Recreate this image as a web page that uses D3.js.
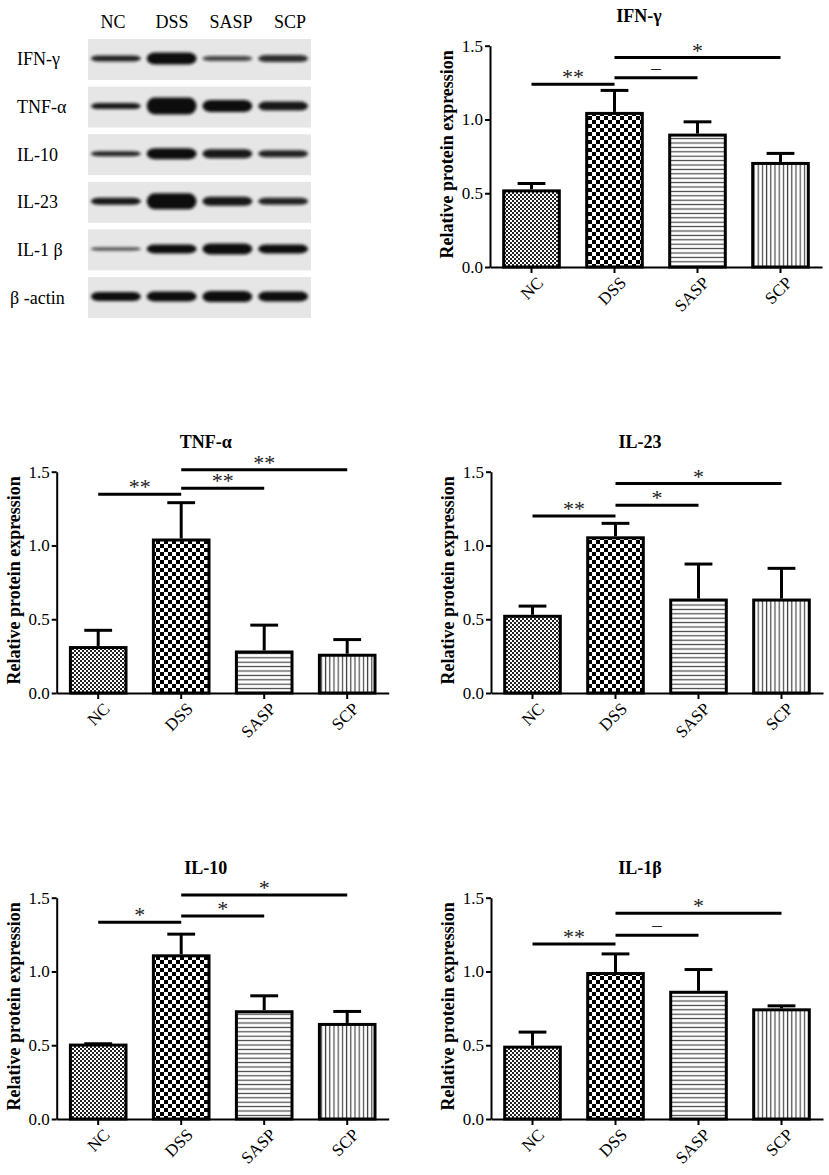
<!DOCTYPE html>
<html>
<head>
<meta charset="utf-8">
<script src="https://cdn.jsdelivr.net/npm/d3@7"></script>
<style>
body { margin: 0; background: #fff; }
text { font-family: "Liberation Serif", "Times New Roman", serif; }
</style>
</head>
<body>
<svg id="chart" width="829" height="1175"></svg>
<script>
const groups = ["NC", "DSS", "SASP", "SCP"];
const yTicks = [0, 0.5, 1.0, 1.5];
const sigPairs = [["NC", "DSS"], ["DSS", "SASP"], ["DSS", "SCP"]];

// bar means and upper errors
const ifnMean = [0.516, 1.041, 0.894, 0.702];
const ifnErr = [0.050, 0.156, 0.090, 0.068];
const ifnSig = ["**", "–", "*"];
const ifnSigY = [1.238, 1.283, 1.420];

const tnfMean = [0.308, 1.037, 0.278, 0.256];
const tnfErr = [0.117, 0.253, 0.182, 0.106];
const tnfSig = ["**", "**", "**"];
const tnfSigY = [1.347, 1.387, 1.514];

const il23Mean = [0.520, 1.052, 0.630, 0.630];
const il23Err = [0.069, 0.098, 0.244, 0.215];
const il23Sig = ["**", "*", "*"];
const il23SigY = [1.200, 1.272, 1.420];

const il10Mean = [0.501, 1.106, 0.727, 0.641];
const il10Err = [0.009, 0.147, 0.108, 0.088];
const il10Sig = ["*", "*", "*"];
const il10SigY = [1.334, 1.376, 1.518];

const il1bMean = [0.487, 0.986, 0.859, 0.740];
const il1bErr = [0.102, 0.133, 0.154, 0.027];
const il1bSig = ["**", "–", "*"];
const il1bSigY = [1.186, 1.245, 1.394];

// western blot rows and band thickness (px) / darkness per lane
const blotRows = ["IFN-γ", "TNF-α", "IL-10", "IL-23", "IL-1 β", "β -actin"];
const bandThick = [
	[6, 12, 5, 7],
	[6, 17, 12, 9],
	[5, 11, 9, 7],
	[7, 16, 9, 7],
	[3, 9, 11, 9],
	[9, 10, 11, 10]
];
const bandDark = [
	[0.9, 1, 0.75, 0.85],
	[0.95, 1, 1, 0.95],
	[0.9, 1, 0.95, 0.9],
	[0.95, 1, 0.95, 0.9],
	[0.8, 1, 1, 1],
	[1, 1, 1, 1]
];

const svg = d3.select("#chart");
const defs = svg.append("defs");

// fill patterns
const pNC = defs.append("pattern").attr("id", "pNC").attr("patternUnits", "userSpaceOnUse")
	.attr("width", 4).attr("height", 4);
pNC.append("rect").attr("width", 4).attr("height", 4).attr("fill", "#fff");
pNC.append("rect").attr("width", 2).attr("height", 2).attr("fill", "#222");
pNC.append("rect").attr("x", 2).attr("y", 2).attr("width", 2).attr("height", 2).attr("fill", "#222");

const pDSS = defs.append("pattern").attr("id", "pDSS").attr("patternUnits", "userSpaceOnUse")
	.attr("width", 8).attr("height", 8);
pDSS.append("rect").attr("width", 8).attr("height", 8).attr("fill", "#fff");
pDSS.append("rect").attr("width", 4).attr("height", 4).attr("fill", "#000");
pDSS.append("rect").attr("x", 4).attr("y", 4).attr("width", 4).attr("height", 4).attr("fill", "#000");

const pSASP = defs.append("pattern").attr("id", "pSASP").attr("patternUnits", "userSpaceOnUse")
	.attr("width", 4).attr("height", 4.4);
pSASP.append("rect").attr("width", 4).attr("height", 4.4).attr("fill", "#fff");
pSASP.append("rect").attr("y", 1.6).attr("width", 4).attr("height", 1.2).attr("fill", "#444");

const pSCP = defs.append("pattern").attr("id", "pSCP").attr("patternUnits", "userSpaceOnUse")
	.attr("width", 4.2).attr("height", 4);
pSCP.append("rect").attr("width", 4.2).attr("height", 4).attr("fill", "#fff");
pSCP.append("rect").attr("x", 1.6).attr("width", 1.2).attr("height", 4).attr("fill", "#444");

const fills = ["url(#pNC)", "url(#pDSS)", "url(#pSASP)", "url(#pSCP)"];

const blur = defs.append("filter").attr("id", "blur").attr("x", "-20%").attr("y", "-100%")
	.attr("width", "140%").attr("height", "300%");
blur.append("feGaussianBlur").attr("stdDeviation", 1.6);

// ---- western blot ----
const blot = svg.append("g");
const rowY = d3.scaleBand().domain(blotRows).range([39, 318]).paddingInner(0.14);
const laneX = d3.scaleBand().domain(groups).range([88, 311]);
const headX = d3.scalePoint().domain(groups).range([113, 290]);

blot.selectAll(".head").data(groups).enter().append("text")
	.attr("x", d => headX(d)).attr("y", 28)
	.attr("text-anchor", "middle").attr("font-size", 18)
	.text(d => d);

blotRows.forEach(function(row, i) {
	const top = rowY(row);
	const mid = top + rowY.bandwidth() / 2 - 1;
	blot.append("rect").attr("x", 88).attr("y", top)
		.attr("width", 223).attr("height", rowY.bandwidth())
		.attr("fill", "#e6e6e6");
	blot.append("text").attr("x", i == 5 ? 10 : 17).attr("y", mid + 7)
		.attr("font-size", 18).text(row);
	blot.selectAll(null).data(groups).enter().append("rect")
		.attr("x", d => laneX(d) + 3)
		.attr("y", (d, j) => mid - bandThick[i][j] / 2)
		.attr("width", laneX.bandwidth() - 6)
		.attr("height", (d, j) => bandThick[i][j])
		.attr("rx", 8).attr("ry", (d, j) => bandThick[i][j] / 2)
		.attr("fill", "#111")
		.attr("opacity", (d, j) => bandDark[i][j])
		.attr("filter", "url(#blur)");
});

// ---- bar panels ----
const panels = [
	{title: "IFN-γ", mean: ifnMean, err: ifnErr, sig: ifnSig, sigY: ifnSigY, x0: 490, yTop: 45.7},
	{title: "TNF-α", mean: tnfMean, err: tnfErr, sig: tnfSig, sigY: tnfSigY, x0: 56.7, yTop: 471.7},
	{title: "IL-23", mean: il23Mean, err: il23Err, sig: il23Sig, sigY: il23SigY, x0: 491, yTop: 471.7},
	{title: "IL-10", mean: il10Mean, err: il10Err, sig: il10Sig, sigY: il10SigY, x0: 56.7, yTop: 897.7},
	{title: "IL-1β", mean: il1bMean, err: il1bErr, sig: il1bSig, sigY: il1bSigY, x0: 491, yTop: 897.7}
];

function drawPanel(p) {
	const g = svg.append("g");
	const yBot = p.yTop + 221.3;
	const x = d3.scaleBand().domain(groups).range([p.x0, p.x0 + 332])
		.paddingInner(0.33).paddingOuter(0.165);
	const y = d3.scaleLinear().domain([0, 1.5]).range([yBot, p.yTop]);
	const bw = x.bandwidth();
	const cx = d => x(d) + bw / 2;

	g.selectAll(".bar").data(groups).enter().append("rect")
		.attr("x", d => x(d))
		.attr("y", (d, i) => y(p.mean[i]))
		.attr("width", bw)
		.attr("height", (d, i) => yBot - y(p.mean[i]))
		.attr("fill", (d, i) => fills[i])
		.attr("stroke", "#000").attr("stroke-width", 3);

	const err = g.append("g").attr("stroke", "#000").attr("stroke-width", 3);
	err.selectAll(".ev").data(groups).enter().append("line")
		.attr("x1", cx).attr("x2", cx)
		.attr("y1", (d, i) => y(p.mean[i]) - 1.5)
		.attr("y2", (d, i) => y(p.mean[i] + p.err[i]));
	err.selectAll(".eh").data(groups).enter().append("line")
		.attr("x1", d => cx(d) - bw / 4).attr("x2", d => cx(d) + bw / 4)
		.attr("y1", (d, i) => y(p.mean[i] + p.err[i]))
		.attr("y2", (d, i) => y(p.mean[i] + p.err[i]));

	const sig = g.append("g");
	sig.selectAll("line").data(sigPairs).enter().append("line")
		.attr("x1", d => cx(d[0])).attr("x2", d => cx(d[1]))
		.attr("y1", (d, i) => y(p.sigY[i])).attr("y2", (d, i) => y(p.sigY[i]))
		.attr("stroke", "#000").attr("stroke-width", 3);
	sig.selectAll("text").data(sigPairs).enter().append("text")
		.attr("x", d => (cx(d[0]) + cx(d[1])) / 2)
		.attr("y", (d, i) => y(p.sigY[i]) - (p.sig[i] == "–" ? 4 : 0))
		.attr("text-anchor", "middle")
		.attr("font-size", (d, i) => p.sig[i] == "–" ? 19 : 22)
		.attr("fill", "#222")
		.text((d, i) => p.sig[i]);

	const ya = g.append("g").attr("transform", "translate(" + p.x0 + ",0)")
		.call(d3.axisLeft(y).tickValues(yTicks).tickFormat(d3.format(".1f"))
			.tickSize(5).tickSizeOuter(0).tickPadding(2));
	const xa = g.append("g").attr("transform", "translate(0," + yBot + ")")
		.call(d3.axisBottom(x).tickSize(6).tickSizeOuter(0));
	[ya, xa].forEach(function(a) {
		a.selectAll("path, line").attr("stroke-width", 2);
		a.selectAll("text").attr("font-family", "Liberation Serif").attr("font-size", 17);
	});
	xa.selectAll("text")
		.attr("text-anchor", "end")
		.attr("transform", "rotate(-45)")
		.attr("x", -3).attr("y", 9).attr("dy", "0.7em");

	g.append("text")
		.attr("transform", "translate(" + (p.x0 - 43) + "," + ((p.yTop + yBot) / 2 - 2) + ") rotate(-90)")
		.attr("text-anchor", "middle").attr("dy", "0.35em")
		.attr("font-size", 18).attr("font-weight", "bold")
		.text("Relative protein expression");

	g.append("text")
		.attr("x", p.x0 + 149).attr("y", p.yTop - 24)
		.attr("text-anchor", "middle").attr("font-size", 18).attr("font-weight", "bold")
		.text(p.title);
}

panels.forEach(drawPanel);
</script>
</body>
</html>
